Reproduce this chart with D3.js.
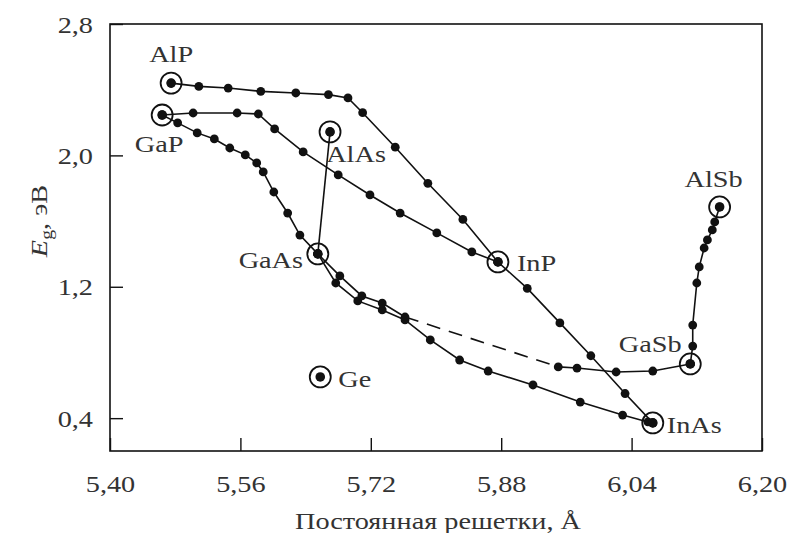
<!DOCTYPE html>
<html>
<head>
<meta charset="utf-8">
<script src="https://cdn.jsdelivr.net/npm/d3@7"></script>
<style>
  body { margin: 0; background: #fff; }
  text { font-family: 'Liberation Serif', 'DejaVu Serif', serif; }
</style>
</head>
<body>
<script>
// axis ticks
const xTicks = [5.40, 5.56, 5.72, 5.88, 6.04, 6.20];
const yTicks = [0.4, 1.2, 2.0, 2.8];

// binary compounds (lattice constant, Eg)
const binNames = ["AlP", "GaP", "AlAs", "GaAs", "InP", "AlSb", "GaSb", "InAs", "Ge"];
const binA     = [5.475, 5.464, 5.670, 5.655, 5.876, 6.148, 6.112, 6.066, 5.658];
const binEg    = [2.44, 2.246, 2.143, 1.40, 1.351, 1.686, 0.730, 0.371, 0.651];

// ternary curves, [a, Eg]
const alInP = [[5.475,2.44],[5.509,2.42],[5.545,2.41],[5.585,2.39],[5.628,2.38],[5.668,2.37],
  [5.692,2.35],[5.710,2.26],[5.750,2.05],[5.790,1.83],[5.833,1.61],[5.876,1.351]];
const inAsP = [[5.876,1.351],[5.912,1.19],[5.952,0.98],[5.990,0.78],[6.032,0.55],[6.066,0.371]];
const gaInP = [[5.464,2.246],[5.502,2.258],[5.556,2.258],[5.582,2.252],[5.602,2.161],[5.637,2.021],
  [5.680,1.881],[5.719,1.759],[5.756,1.649],[5.801,1.528],[5.844,1.412],[5.876,1.351]];
const gaAsP = [[5.464,2.246],[5.483,2.198],[5.507,2.137],[5.528,2.100],[5.547,2.045],[5.566,2.003],
  [5.580,1.954],[5.588,1.899],[5.601,1.777],[5.618,1.649],[5.633,1.515],[5.655,1.40]];
const alGaAs = [[5.670,2.143],[5.655,1.40]];
const gaInAs = [[5.655,1.40],[5.677,1.223],[5.704,1.114],[5.734,1.059],[5.762,0.998],[5.793,0.876],
  [5.829,0.754],[5.864,0.687],[5.919,0.602],[5.977,0.498],[6.029,0.419],[6.060,0.377],[6.066,0.371]];
const gaAsSb1 = [[5.655,1.40],[5.682,1.266],[5.709,1.144],[5.734,1.101],[5.762,1.016]];
const gaAsSbGap = [[5.762,1.016],[5.950,0.712]];
const gaAsSb2 = [[5.950,0.712],[5.973,0.705],[6.021,0.681],[6.066,0.687],[6.112,0.730]];
const alGaSb = [[6.112,0.730],[6.115,0.839],[6.115,0.967],[6.120,1.223],[6.123,1.321],[6.129,1.436],
  [6.133,1.485],[6.139,1.546],[6.142,1.595],[6.148,1.686]];

const solidCurves = [alInP, inAsP, gaInP, gaAsP, alGaAs, gaInAs, gaAsSb1, gaAsSb2, alGaSb];

// label placement next to each binary point (px offsets)
const labelPos = {
  AlP: [0, -21, "middle"], GaP: [-3, 37, "middle"], AlAs: [26, 30, "middle"],
  GaAs: [-47, 14, "middle"], InP: [19, 9, "start"], AlSb: [-6, -20, "middle"],
  GaSb: [-40, -12, "middle"], InAs: [14, 10, "start"], Ge: [18, 10, "start"]
};

const W = 788, H = 533;
const FS = 23, SX = 1.23;   // font size and horizontal stretch of the lettering
const svg = d3.select("body").append("svg")
    .attr("width", W)
    .attr("height", H);

const x = d3.scaleLinear().domain([5.40, 6.20]).range([110, 762]);
const y = d3.scaleLinear().domain([0.2, 2.8]).range([451, 24]);

// move x/y of a text into a transform so it can be widened
function stretch(sel) {
  sel.each(function() {
    const t = d3.select(this);
    const tx = +t.attr("x") || 0, ty = +t.attr("y") || 0;
    t.attr("x", 0).attr("y", 0)
     .attr("transform", "translate(" + tx + "," + ty + ") scale(" + SX + ",1)");
  });
}

// frame
svg.append("rect")
    .attr("x", x(5.40)).attr("y", y(2.8))
    .attr("width", x(6.20) - x(5.40))
    .attr("height", y(0.2) - y(2.8))
    .attr("fill", "none")
    .attr("stroke", "#111")
    .attr("stroke-width", 1.6);

const fmt = (d, n) => d3.format("." + n + "f")(d).replace(".", ",");

// x axis
const gx = svg.append("g")
    .attr("transform", "translate(0," + y(0.2) + ")")
    .call(d3.axisBottom(x).tickValues(xTicks).tickSizeInner(-13).tickSizeOuter(0)
        .tickFormat(d => fmt(d, 2)))
    .attr("font-family", null)
    .attr("font-size", FS);
gx.select(".domain").remove();
gx.selectAll("line").attr("stroke", "#111").attr("stroke-width", 1.4);
gx.selectAll("text").attr("y", 41).attr("dy", null).attr("fill", "#333").call(stretch);

// y axis
const gy = svg.append("g")
    .attr("transform", "translate(" + x(5.40) + ",0)")
    .call(d3.axisLeft(y).tickValues(yTicks).tickSizeInner(-13).tickSizeOuter(0)
        .tickFormat(d => fmt(d, 1)))
    .attr("font-family", null)
    .attr("font-size", FS);
gy.select(".domain").remove();
gy.selectAll("line").attr("stroke", "#111").attr("stroke-width", 1.4);
gy.selectAll("text").attr("x", -17).attr("dy", "0.35em").attr("fill", "#333").call(stretch);

// axis titles
svg.append("text")
    .attr("x", 438).attr("y", 529)
    .attr("text-anchor", "middle")
    .attr("font-size", FS)
    .attr("fill", "#333")
    .text("Постоянная решетки, Å")
    .call(stretch);

const yt = svg.append("text")
    .attr("transform", "translate(47,221) rotate(-90) scale(" + SX + ",1)")
    .attr("text-anchor", "middle")
    .attr("font-size", FS)
    .attr("fill", "#333");
yt.append("tspan").attr("font-style", "italic").text("E");
yt.append("tspan").attr("font-size", 16).attr("dy", 5).text("g");
yt.append("tspan").attr("dy", -5).text(", эВ");

// curves
const line = d3.line().x(d => x(d[0])).y(d => y(d[1]));
const g = svg.append("g");

g.selectAll("path.curve")
    .data(solidCurves)
    .enter()
    .append("path")
    .attr("class", "curve")
    .attr("d", line)
    .attr("fill", "none")
    .attr("stroke", "#111")
    .attr("stroke-width", 1.6);

g.append("path")
    .attr("d", line(gaAsSbGap))
    .attr("fill", "none")
    .attr("stroke", "#111")
    .attr("stroke-width", 1.6)
    .attr("stroke-dasharray", "14,9");

// dots on the curves
const allPts = solidCurves.flat();
g.selectAll("circle.dot")
    .data(allPts)
    .enter()
    .append("circle")
    .attr("class", "dot")
    .attr("cx", d => x(d[0]))
    .attr("cy", d => y(d[1]))
    .attr("r", 4.4)
    .attr("fill", "#111");

// binaries: ring + dot + name
const bins = binNames.map((n, i) => ({name: n, a: binA[i], eg: binEg[i]}));
const bg = g.selectAll("g.bin")
    .data(bins)
    .enter()
    .append("g")
    .attr("class", "bin")
    .attr("transform", d => "translate(" + x(d.a) + "," + y(d.eg) + ")");

bg.append("circle")
    .attr("r", 10.5)
    .attr("fill", "none")
    .attr("stroke", "#111")
    .attr("stroke-width", 1.8);
bg.append("circle")
    .attr("r", 4.8)
    .attr("fill", "#111");
bg.append("text")
    .attr("x", d => labelPos[d.name][0])
    .attr("y", d => labelPos[d.name][1])
    .attr("text-anchor", d => labelPos[d.name][2])
    .attr("font-size", FS)
    .attr("fill", "#333")
    .text(d => d.name)
    .call(stretch);
</script>
</body>
</html>
